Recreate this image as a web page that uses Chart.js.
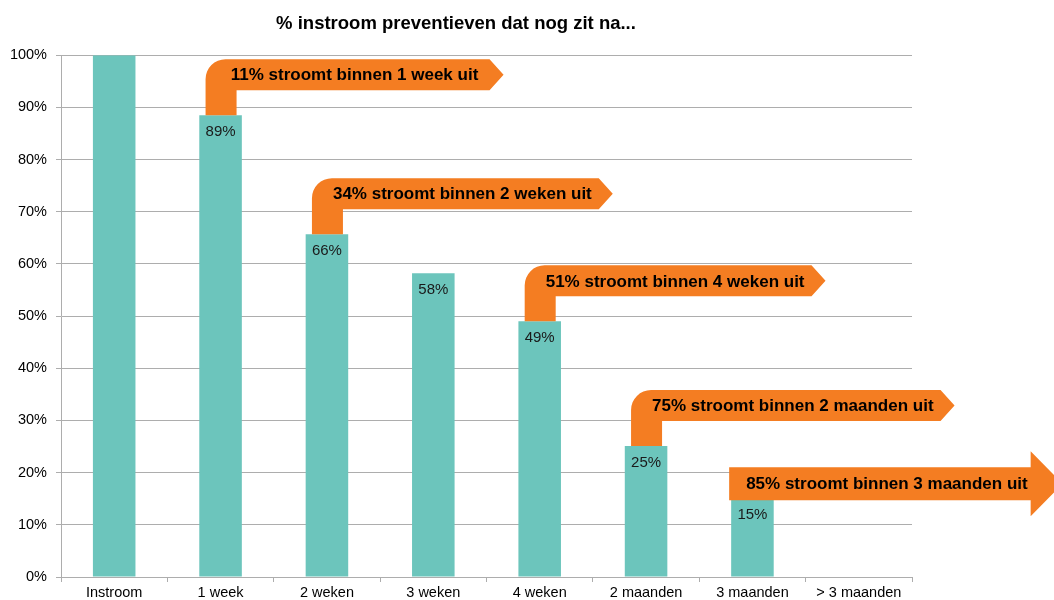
<!DOCTYPE html>
<html>
<head>
<meta charset="utf-8">
<script src="https://cdn.jsdelivr.net/npm/chart.js@4/dist/chart.umd.min.js"></script>
<style>
  html, body { margin: 0; padding: 0; background: #ffffff; }
  #wrap { width: 1054px; height: 600px; }
</style>
</head>
<body>
<div id="wrap"><canvas id="c" width="1054" height="600"></canvas></div>
<script>
const chartTitle = '% instroom preventieven dat nog zit na...';
const categories = ['Instroom', '1 week', '2 weken', '3 weken', '4 weken', '2 maanden', '3 maanden', '> 3 maanden'];
const values = [100, 88.5, 65.7, 58.2, 49.0, 25.1, 15.1, 0];
const arrowBars = [1, 2, 4, 5, 6];
const arrowTexts = [
  '11% stroomt binnen 1 week uit',
  '34% stroomt binnen 2 weken uit',
  '51% stroomt binnen 4 weken uit',
  '75% stroomt binnen 2 maanden uit',
  '85% stroomt binnen 3 maanden uit'
];
const arrowKinds = ['bent', 'bent', 'bent', 'bent', 'straight'];

const FONT = '"Liberation Sans", Arial, sans-serif';
const ORANGE = '#F47D22';
const TEAL = '#6CC5BC';
const GRID = '#ADADAD';

const labelPlugin = {
  id: 'barLabels',
  afterDatasetsDraw(chart) {
    const ctx = chart.ctx;
    const meta = chart.getDatasetMeta(0);
    ctx.save();
    ctx.font = '15px ' + FONT;
    ctx.fillStyle = '#1a1a1a';
    ctx.textAlign = 'center';
    ctx.textBaseline = 'middle';
    values.forEach((v, i) => {
      if (v > 0 && v < 100) {
        const bar = meta.data[i];
        ctx.fillText(Math.round(v) + '%', bar.x, bar.y + 17);
      }
    });
    ctx.restore();
  }
};

const arrowPlugin = {
  id: 'arrows',
  afterDraw(chart) {
    const ctx = chart.ctx;
    const meta = chart.getDatasetMeta(0);
    ctx.save();
    ctx.font = 'bold 17px ' + FONT;
    arrowBars.forEach((idx, k) => {
      const bar = meta.data[idx];
      const text = arrowTexts[k];
      const tw = ctx.measureText(text).width;
      const top = bar.y;
      ctx.fillStyle = ORANGE;
      ctx.beginPath();
      let tx, ty;
      if (arrowKinds[k] === 'bent') {
        const sl = bar.x - 15, sr = bar.x + 16;
        const bt = top - 56, bb = bt + 31;
        const len = Math.max(284, tw + 28);
        const fe = sl + len, tip = fe + 14, r = 20;
        const mid = (bt + bb) / 2;
        ctx.moveTo(sl, top);
        ctx.lineTo(sl, bt + r);
        ctx.arcTo(sl, bt, sl + r, bt, r);
        ctx.lineTo(fe, bt);
        ctx.lineTo(tip, mid);
        ctx.lineTo(fe, bb);
        ctx.lineTo(sr, bb);
        ctx.lineTo(sr, top);
        ctx.closePath();
        tx = sl + len / 2 + 7;
        ty = mid + 1;
      } else {
        const left = bar.x - bar.width / 2 - 2;
        const bt = top - 31, bb = top + 2;
        const mid = (bt + bb) / 2;
        const fe = left + tw + 20;
        const tip = fe + 32;
        ctx.moveTo(left, bt);
        ctx.lineTo(fe, bt);
        ctx.lineTo(fe, mid - 32.5);
        ctx.lineTo(tip, mid);
        ctx.lineTo(fe, mid + 32.5);
        ctx.lineTo(fe, bb);
        ctx.lineTo(left, bb);
        ctx.closePath();
        tx = left + (fe - left) / 2 + 7;
        ty = mid + 1;
      }
      ctx.fill();
      ctx.fillStyle = '#000000';
      ctx.textAlign = 'center';
      ctx.textBaseline = 'middle';
      ctx.fillText(text, tx, ty);
    });
    ctx.restore();
  }
};

new Chart(document.getElementById('c'), {
  type: 'bar',
  data: {
    labels: categories,
    datasets: [{
      data: values,
      backgroundColor: TEAL,
      borderWidth: 0,
      barPercentage: 0.4,
      categoryPercentage: 1.0
    }]
  },
  options: {
    responsive: false,
    animation: false,
    devicePixelRatio: 1,
    layout: { padding: { left: 0, right: 142, top: 0, bottom: 0 } },
    plugins: {
      legend: { display: false },
      tooltip: { enabled: false },
      title: {
        display: true,
        text: chartTitle,
        color: '#000000',
        font: { family: FONT, size: 18.5, weight: 'bold' },
        padding: { top: 13, bottom: 20 }
      }
    },
    scales: {
      x: {
        offset: true,
        grid: {
          offset: true,
          drawOnChartArea: false,
          drawTicks: true,
          tickLength: 5,
          color: GRID
        },
        border: { display: true, color: GRID, width: 1 },
        ticks: {
          color: '#000000',
          font: { family: FONT, size: 14.5 },
          padding: 2,
          maxRotation: 0,
          autoSkip: false
        },
        afterFit(s) { s.height = 23; }
      },
      y: {
        min: 0,
        max: 100,
        grid: {
          color: GRID,
          drawTicks: true,
          tickLength: 5
        },
        border: { display: true, color: GRID, width: 1 },
        ticks: {
          stepSize: 10,
          color: '#000000',
          font: { family: FONT, size: 14.5 },
          padding: 9,
          callback: v => v + '%'
        },
        afterFit(s) { s.width = 61; }
      }
    }
  },
  plugins: [labelPlugin, arrowPlugin]
});
</script>
</body>
</html>
